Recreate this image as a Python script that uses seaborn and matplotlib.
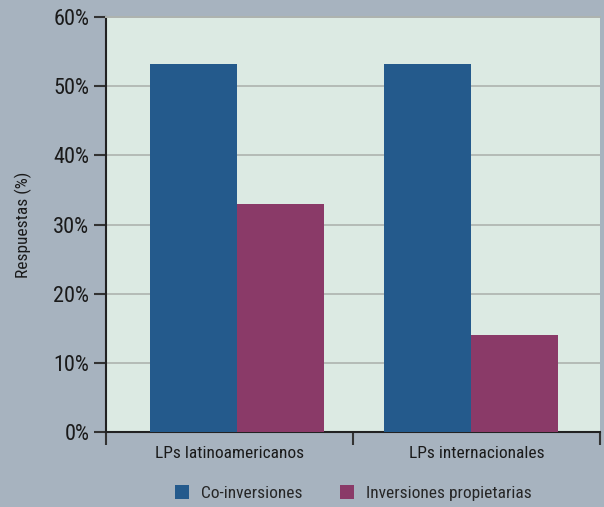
import matplotlib
matplotlib.use("Agg")
import matplotlib.pyplot as plt
import seaborn as sns
import pandas as pd
from matplotlib import font_manager
from matplotlib.ticker import FixedLocator, NullFormatter

categories = ["LPs latinoamericanos", "LPs internacionales"]
series_names = ["Co-inversiones", "Inversiones propietarias"]
co_inversiones = [53.2, 53.2]
inversiones_propietarias = [33.0, 14.0]
y_ticks = [0, 10, 20, 30, 40, 50, 60]
y_tick_labels = ["0%", "10%", "20%", "30%", "40%", "50%", "60%"]

names = {f.name for f in font_manager.fontManager.ttflist}
family = "DejaVu Sans"
for cand in ["Roboto Condensed", "Liberation Sans Narrow", "Open Sans Condensed",
             "Noto Sans Condensed", "DejaVu Sans Condensed", "Roboto"]:
    if cand in names:
        family = cand
        break

df = pd.DataFrame({
    "categoria": categories * 2,
    "serie": [series_names[0]] * 2 + [series_names[1]] * 2,
    "valor": co_inversiones + inversiones_propietarias,
})

sns.set_theme(style="white")
plt.rcParams["font.family"] = [family, "DejaVu Sans"]

fig_bg = "#A7B3BF"
ax_bg = "#DCEAE3"
palette = {series_names[0]: "#245A8C", series_names[1]: "#8A3A68"}

fig = plt.figure(figsize=(6.04, 5.07), dpi=100, facecolor=fig_bg)
ax = fig.add_axes([106 / 604, 75 / 507, 494 / 604, 415 / 507])
ax.set_facecolor(ax_bg)

sns.barplot(data=df, x="categoria", y="valor", hue="serie", palette=palette,
            width=0.744, saturation=1, ax=ax, legend=True, zorder=3,
            edgecolor="none", linewidth=0)

# category cells are bounded by the outer axis ends and a divider tick
x_lo, x_mid, x_hi = -0.558, 0.498, 1.553
ax.set_ylim(0, 60)
ax.set_xlim(x_lo, x_hi)
ax.set_yticks(y_ticks)
ax.set_yticklabels(y_tick_labels, fontsize=16, color="#1a1a1a")
ax.yaxis.grid(True, color="#AEB3AF", linewidth=1.2, zorder=0)
ax.set_axisbelow(True)

ax.set_xticks([(x_lo + x_mid) / 2, (x_mid + x_hi) / 2])
ax.set_xticklabels(categories)
ax.tick_params(axis="y", direction="out", length=9, width=1.5, color="#333333", pad=3, left=True)
ax.tick_params(axis="x", which="major", length=0, labelsize=12.5, pad=10, labelcolor="#1a1a1a")
ax.xaxis.set_minor_locator(FixedLocator([x_lo, x_mid, x_hi]))
ax.xaxis.set_minor_formatter(NullFormatter())
ax.tick_params(axis="x", which="minor", direction="out", length=9, width=1.5, color="#333333", bottom=True)

for side in ["left", "bottom"]:
    ax.spines[side].set_color("#222222")
    ax.spines[side].set_linewidth(1.5)
ax.spines["top"].set_color("#AEB3AF")
ax.spines["top"].set_linewidth(1.4)
ax.spines["right"].set_visible(False)

ax.set_xlabel("")
ax.set_ylabel("Respuestas (%)", fontsize=12.5, color="#1a1a1a", labelpad=15)

ax.legend_.remove()
handles, labels = ax.get_legend_handles_labels()
fig.legend(handles, labels, loc="center", bbox_to_anchor=(0.585, 0.027), ncol=2,
           frameon=False, fontsize=12.5, handlelength=0.8, handleheight=0.8,
           handletextpad=0.7, columnspacing=2.15)

fig.savefig("out.png", dpi=100, facecolor=fig_bg)
